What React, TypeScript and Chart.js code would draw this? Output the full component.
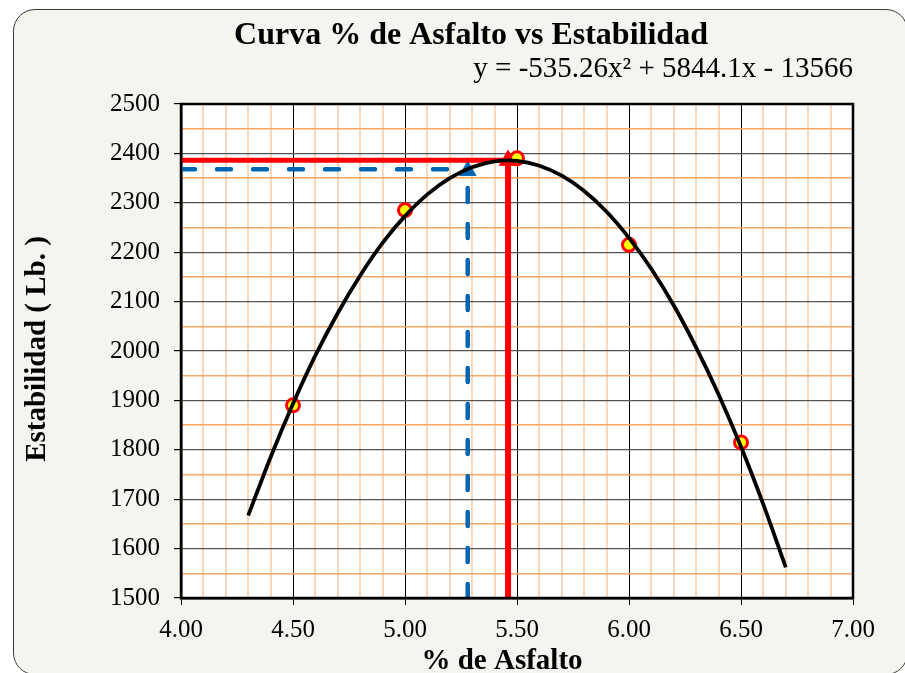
import React, { useEffect, useRef } from "react";
import { Chart, registerables } from "chart.js";

Chart.register(...registerables);

// ---- data ----
const asphaltPct = [4.5, 5.0, 5.5, 6.0, 6.5];
const stability = [1890, 2285, 2390, 2215, 1815];

// trend line
const curveX = [4.3, 4.4, 4.5, 4.6, 4.7, 4.8, 4.9, 5.0, 5.1, 5.2, 5.3, 5.4, 5.5, 5.6, 5.7, 5.8, 5.9, 6.0, 6.1, 6.2, 6.3, 6.4, 6.5, 6.6, 6.7];
const curveY = [1667, 1785, 1893, 1991, 2077, 2153, 2219, 2273, 2317, 2350, 2372, 2384, 2385, 2375, 2355, 2324, 2282, 2229, 2166, 2092, 2007, 1912, 1806, 1689, 1562];

// guide lines
const optimumX = [5.46];
const optimumY = [2386];
const designX = [5.28];
const designY = [2368];
const designArrowTopY = [2365];

const xLimits = [4, 7];
const yLimits = [1500, 2500];

const titleText = "Curva % de Asfalto vs Estabilidad";
const equationText = "y = -535.26x² + 5844.1x - 13566";
const xTitle = "% de Asfalto";
const yTitle = "Estabilidad ( Lb. )";

const SERIF = "'Liberation Serif', 'Times New Roman', serif";

export default function App() {
  const ref = useRef<HTMLCanvasElement | null>(null);

  useEffect(() => {
    const canvas = ref.current;
    if (!canvas) return;

    const isMajorX = (v: number) => Math.abs(v * 2 - Math.round(v * 2)) < 1e-6;
    const isMajorY = (v: number) => Math.abs(v / 100 - Math.round(v / 100)) < 1e-6;

    const decor = {
      id: "decor",
      beforeDraw(chart: any) {
        const { ctx, chartArea: a } = chart;
        ctx.save();
        ctx.fillStyle = "#ffffff";
        ctx.fillRect(a.left, a.top, a.right - a.left, a.bottom - a.top);
        ctx.restore();
      },
      afterDraw(chart: any) {
        const { ctx, chartArea: a } = chart;
        ctx.save();
        ctx.strokeStyle = "#000000";
        ctx.lineWidth = 2.5;
        ctx.strokeRect(a.left, a.top, a.right - a.left, a.bottom - a.top);

        ctx.fillStyle = "#000000";
        ctx.textAlign = "center";
        ctx.textBaseline = "alphabetic";
        ctx.font = `bold 32px ${SERIF}`;
        ctx.fillText(titleText, 471, 44);

        ctx.textAlign = "right";
        ctx.font = `29px ${SERIF}`;
        ctx.fillText(equationText, a.right, 77);

        ctx.textAlign = "center";
        ctx.font = `bold 29px ${SERIF}`;
        ctx.fillText(xTitle, 502, 669);

        ctx.translate(38, 349);
        ctx.rotate(-Math.PI / 2);
        ctx.textBaseline = "middle";
        ctx.font = `bold 29px ${SERIF}`;
        ctx.fillText(yTitle, 0, 0);
        ctx.restore();
      },
    };

    const chart = new Chart(canvas, {
      type: "scatter",
      data: {
        datasets: [
          {
            label: "curve",
            data: curveX.map((x, i) => ({ x, y: curveY[i] })),
            showLine: true,
            borderColor: "#000000",
            borderWidth: 3.8,
            pointRadius: 0,
            tension: 0.3,
            order: 0,
          },
          {
            label: "Estabilidad",
            data: asphaltPct.map((x, i) => ({ x, y: stability[i] })),
            showLine: false,
            pointRadius: 6.5,
            pointBackgroundColor: "#ffff00",
            pointBorderColor: "#ff0000",
            pointBorderWidth: 3,
            order: 1,
          },
          {
            label: "opt-h",
            data: [
              { x: xLimits[0], y: optimumY[0] },
              { x: optimumX[0], y: optimumY[0] },
            ],
            showLine: true,
            borderColor: "#ff0000",
            borderWidth: 5,
            pointRadius: 0,
            order: 2,
          },
          {
            label: "opt-v",
            data: [
              { x: optimumX[0], y: yLimits[0] },
              { x: optimumX[0], y: optimumY[0] },
            ],
            showLine: true,
            borderColor: "#ff0000",
            borderWidth: 6,
            pointRadius: [0, 10],
            pointStyle: "triangle",
            pointBackgroundColor: "#ff0000",
            pointBorderColor: "#ff0000",
            pointBorderWidth: 1,
            order: 2,
          },
          {
            label: "des-h",
            data: [
              { x: xLimits[0], y: designY[0] },
              { x: designX[0], y: designY[0] },
            ],
            showLine: true,
            borderColor: "#0066b3",
            borderWidth: 4.5,
            borderDash: [14, 22],
            borderCapStyle: "round",
            pointRadius: 0,
            order: 3,
          },
          {
            label: "des-v",
            data: [
              { x: designX[0], y: yLimits[0] },
              { x: designX[0], y: designArrowTopY[0] },
            ],
            showLine: true,
            borderColor: "#0066b3",
            borderWidth: 4.5,
            borderDash: [14, 22],
            borderCapStyle: "round",
            pointRadius: [0, 9.5],
            pointStyle: "triangle",
            pointBackgroundColor: "#0066b3",
            pointBorderColor: "#0066b3",
            pointBorderWidth: 1,
            order: 3,
          },
        ],
      },
      options: {
        responsive: false,
        animation: false,
        events: [],
        layout: { padding: { top: 104, right: 52, left: 0, bottom: 0 } },
        plugins: {
          legend: { display: false },
          tooltip: { enabled: false },
          title: { display: false },
        },
        scales: {
          x: {
            type: "linear",
            min: xLimits[0],
            max: xLimits[1],
            afterFit: (s: any) => {
              s.height = 75;
            },
            ticks: {
              stepSize: 0.1,
              autoSkip: false,
              maxRotation: 0,
              padding: 10,
              color: "#000000",
              font: { family: SERIF, size: 25 },
              callback: (v: any) => (isMajorX(Number(v)) ? Number(v).toFixed(2) : ""),
            },
            grid: {
              color: (c: any) => (isMajorX(c.tick.value) ? "#000000" : "#fbd6b8"),
              lineWidth: (c: any) => (isMajorX(c.tick.value) ? 1 : 2),
              tickColor: (c: any) => (isMajorX(c.tick.value) ? "#000000" : "rgba(0,0,0,0)"),
              tickLength: 7,
            },
            border: { display: true, color: "#000000", width: 2.5 },
          },
          y: {
            type: "linear",
            min: yLimits[0],
            max: yLimits[1],
            afterFit: (s: any) => {
              s.width = 181;
            },
            ticks: {
              stepSize: 50,
              autoSkip: false,
              padding: 14,
              color: "#000000",
              font: { family: SERIF, size: 25 },
              callback: (v: any) => (isMajorY(Number(v)) ? String(v) : ""),
            },
            grid: {
              color: (c: any) => (isMajorY(c.tick.value) ? "#555555" : "#f7a867"),
              lineWidth: (c: any) => (isMajorY(c.tick.value) ? 1.2 : 1.5),
              tickColor: (c: any) => (isMajorY(c.tick.value) ? "#000000" : "rgba(0,0,0,0)"),
              tickLength: 7,
            },
            border: { display: true, color: "#000000", width: 2.5 },
          },
        },
      },
      plugins: [decor],
    } as any);

    return () => chart.destroy();
  }, []);

  return (
    <div style={{ position: "fixed", left: 0, top: 0, width: 905, height: 673, overflow: "hidden", background: "#ffffff" }}>
      <div
        style={{
          position: "absolute",
          left: 13,
          top: 9,
          width: 895,
          height: 666,
          border: "1.5px solid #3a3a3a",
          borderRadius: 22,
          background: "#f5f5ef",
          boxSizing: "border-box",
        }}
      />
      <canvas ref={ref} width={905} height={673} style={{ position: "absolute", left: 0, top: 0 }} />
    </div>
  );
}
